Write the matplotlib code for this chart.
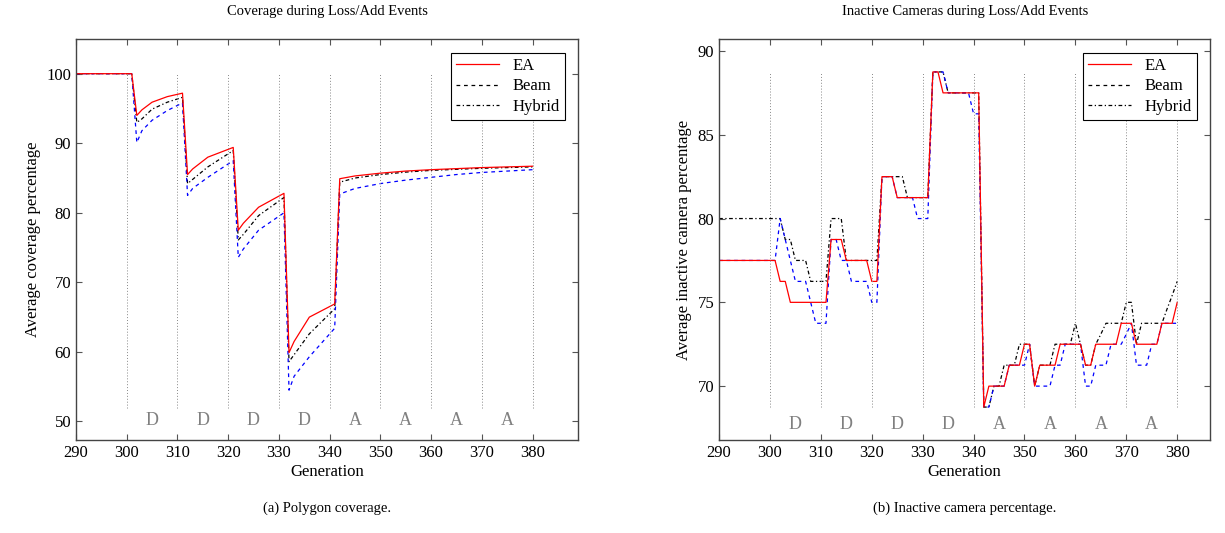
import matplotlib.pyplot as plt
from matplotlib.lines import Line2D

plt.rcParams['font.family'] = ['Liberation Serif', 'DejaVu Serif']

# coverage data (left)
cov_gen = [290, 301, 302, 303, 305, 308, 311, 312, 313, 316, 321, 322, 323, 326, 331,
           332, 333, 336, 341, 342, 345, 350, 355, 360, 365, 370, 375, 380]
cov_ea = [100, 100, 94.0, 94.8, 95.9, 96.7, 97.2, 85.5, 86.3, 88.0, 89.4, 77.5, 78.5, 80.8, 82.8,
          59.9, 61.5, 65.0, 66.9, 84.9, 85.3, 85.7, 86.0, 86.2, 86.35, 86.5, 86.6, 86.7]
cov_beam = [100, 100, 90.1, 91.8, 93.3, 94.7, 95.8, 82.5, 83.5, 85.1, 87.5, 73.6, 74.8, 77.5, 80.0,
            54.5, 56.5, 59.3, 63.4, 82.7, 83.5, 84.2, 84.7, 85.1, 85.5, 85.8, 86.0, 86.2]
cov_hybrid = [100, 100, 93.0, 93.5, 94.9, 95.9, 96.6, 84.2, 84.8, 86.6, 88.95, 76.1, 76.9, 79.6, 82.2,
              58.6, 59.6, 62.6, 66.2, 84.4, 85.0, 85.5, 85.85, 86.1, 86.25, 86.4, 86.5, 86.6]

# inactive cameras data (right), one value per generation 290..380
gens = list(range(290, 381))
ina_ea = ([77.5]*12 + [76.25]*2 + [75]*8 + [78.75]*3 + [77.5]*5 + [76.25]*2 + [82.5]*3 + [81.25]*7
          + [88.75]*2 + [87.5]*8 + [68.75] + [70]*4 + [71.25]*3 + [72.5]*2 + [70] + [71.25]*4
          + [72.5]*5 + [71.25]*2 + [72.5]*5 + [73.75]*3 + [72.5]*5 + [73.75]*3 + [75])
ina_beam = ([77.5]*12 + [80, 78.75, 77.5] + [76.25]*3 + [75] + [73.75]*3 + [78.75]*2 + [77.5]*2
            + [76.25]*4 + [75]*2 + [82.5]*3 + [81.25]*4 + [80]*3 + [88.75]*3 + [87.5]*5 + [86.25]*2
            + [68.75]*2 + [70]*3 + [71.25]*4 + [72.5] + [70]*4 + [71.25]*2 + [72.5]*4 + [70]*2
            + [71.25]*3 + [72.5]*3 + [73.1, 73.75] + [71.25]*3 + [72.5]*2 + [73.75]*4)
ina_hybrid = ([80]*13 + [78.75]*2 + [77.5]*3 + [76.25]*4 + [80]*3 + [77.5]*7 + [82.5]*5 + [81.25]*5
              + [88.75]*3 + [87.5]*7 + [68.75]*2 + [70]*2 + [71.25]*3 + [72.5]*3 + [70] + [71.25]*3
              + [72.5]*4 + [73.75] + [72.5] + [71.25]*2 + [72.5, 73.1] + [73.75]*4 + [75]*2 + [72.5]
              + [73.75]*5 + [74.6, 75.4, 76.25])

phase_x = [305, 315, 325, 335, 345, 355, 365, 375]
phase_lab = ['D', 'D', 'D', 'D', 'A', 'A', 'A', 'A']
event_x = [300, 310, 320, 330, 340, 350, 360, 370, 380]

fig = plt.figure(figsize=(12.25, 5.33), dpi=100)
ax1 = fig.add_axes([0.062, 0.174, 0.410, 0.753])
ax2 = fig.add_axes([0.587, 0.174, 0.401, 0.753])


def style(ax, xmax, ylo, yhi, dlo, dhi, ly):
    ax.vlines(event_x, dlo, dhi, colors='#888888', linestyles=(0, (1, 2)), linewidth=0.7)
    for x, t in zip(phase_x, phase_lab):
        ax.text(x, ly, t, color='#808080', fontsize=13, ha='center', va='center')
    ax.set_xlim(290, xmax)
    ax.set_ylim(ylo, yhi)
    ax.set_xticks(range(290, 390, 10))
    ax.tick_params(direction='in', top=True, right=True, length=4, labelsize=12,
                   color='#555555', width=0.8)
    for s in ax.spines.values():
        s.set_linewidth(1.0)
        s.set_color('#444444')
    ax.set_xlabel('Generation', fontsize=12, labelpad=2)
    # legend shows Beam in black, as in the original
    handles = [Line2D([], [], color='red', lw=0.9),
               Line2D([], [], color='black', lw=0.9, ls=(0, (3, 3))),
               Line2D([], [], color='black', lw=0.9, ls=(0, (3, 2, 1, 2)))]
    leg = ax.legend(handles, ['EA', 'Beam', 'Hybrid'], loc='upper right', fontsize=12,
                    fancybox=False, edgecolor='black', framealpha=1, handlelength=2.6,
                    borderpad=0.3, labelspacing=0.25, bbox_to_anchor=(0.99, 0.985))
    leg.get_frame().set_linewidth(0.8)


ax1.plot(cov_gen, cov_hybrid, color='black', lw=0.9, ls=(0, (3, 2, 1, 2)))
ax1.plot(cov_gen, cov_beam, color='blue', lw=0.9, ls=(0, (3, 3)))
ax1.plot(cov_gen, cov_ea, color='red', lw=0.9)
style(ax1, 389, 47.3, 105, 52, 100, 50.2)
ax1.set_yticks(range(50, 101, 10))
ax1.set_ylabel('Average coverage percentage', fontsize=12, labelpad=4)
ax1.set_title('Coverage during Loss/Add Events', fontsize=10.5, pad=17)

ax2.plot(gens, ina_hybrid, color='black', lw=0.9, ls=(0, (3, 2, 1, 2)))
ax2.plot(gens, ina_beam, color='blue', lw=0.9, ls=(0, (3, 3)))
ax2.plot(gens, ina_ea, color='red', lw=0.9)
style(ax2, 386.5, 66.77, 90.72, 68.75, 88.75, 67.72)
ax2.set_yticks(range(70, 91, 5))
ax2.set_ylabel('Average inactive camera percentage', fontsize=12, labelpad=4)
ax2.set_title('Inactive Cameras during Loss/Add Events', fontsize=10.5, pad=17)

fig.text(0.062 + 0.410/2, 0.0405, '(a) Polygon coverage.', ha='center', fontsize=10.5)
fig.text(0.587 + 0.401/2, 0.0405, '(b) Inactive camera percentage.', ha='center', fontsize=10.5)

plt.savefig('out.png', dpi=100)
plt.close()
